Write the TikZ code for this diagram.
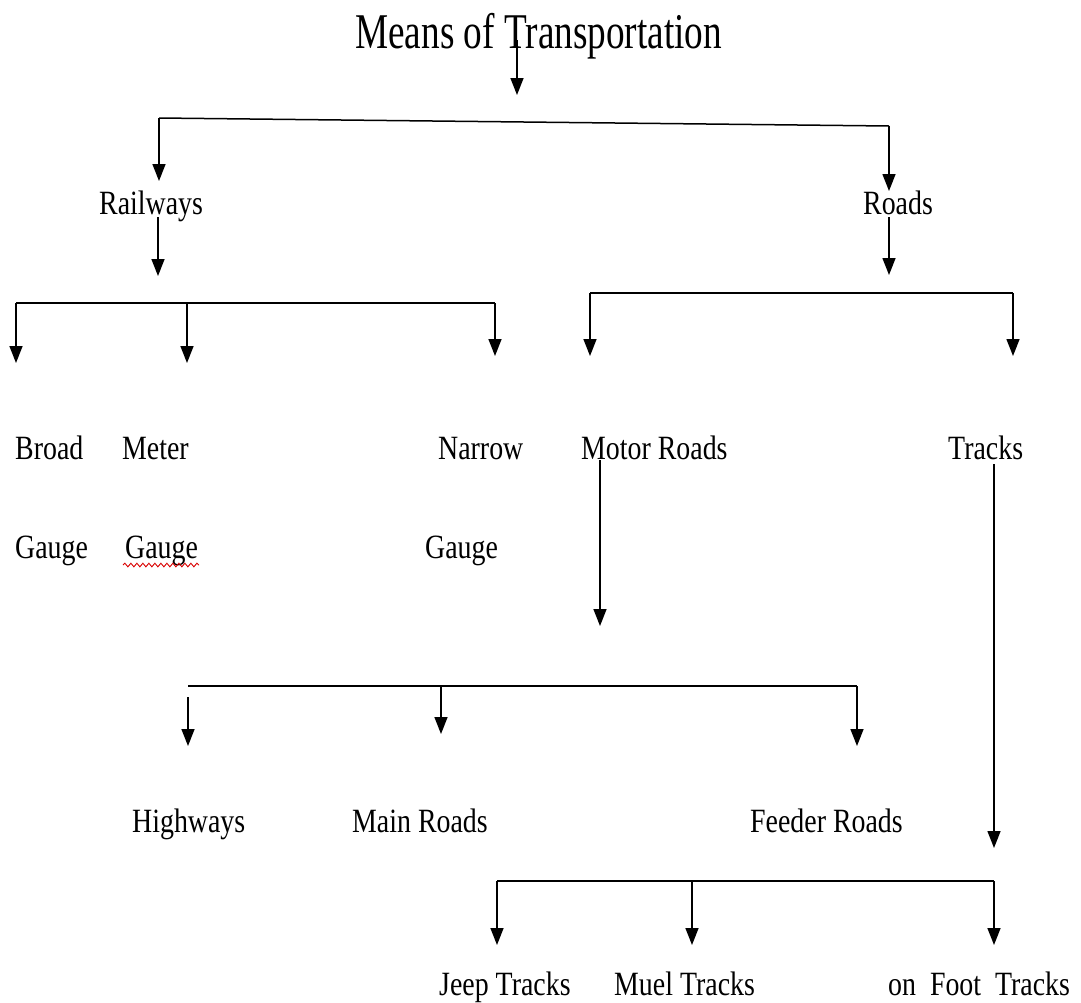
\documentclass[tikz,border=0pt]{standalone}
\usepackage{fontspec}
\setmainfont{Liberation Serif}[FakeStretch=0.82]
\newfontfamily\titlefont{Liberation Serif}[FakeStretch=0.745]
\usetikzlibrary{arrows.meta,decorations.pathmorphing}

\tikzset{
  lbl/.style={anchor=base west, inner sep=0pt, font=\fontsize{34}{40}\selectfont},
  arr/.style={line width=1.5pt, -{Triangle[length=17pt,width=13pt]}},
  ln/.style={line width=1.5pt},
}

\begin{document}
\begin{tikzpicture}[x=1pt,y=-1pt]
  \useasboundingbox (0,0) rectangle (1081,1002);

  %title and first split
  \node[lbl, font=\titlefont\fontsize{50}{56}\selectfont] (title) at (355,48) {Means of Transportation};
  \coordinate (t0) at (517,40);
  \coordinate (t1) at (517,95);
  \draw[arr] (t0) -- (t1);
  \coordinate (sl) at (159,118);
  \coordinate (sr) at (889,126);
  \draw[ln] (sl) -- (sr);

  \node[lbl] (rail) at (99,214) {Railways};
  \node[lbl] (roads) at (863,214) {Roads};
  \draw[arr] (sl) -- (sl |- 0,181);
  \draw[arr] (sr) -- (sr |- 0,191);

  %railways
  \coordinate (r0) at (158,217);
  \draw[arr] (r0) -- (158,276);
  \coordinate (rl) at (16,303);
  \coordinate (rm) at (187,303);
  \coordinate (rr) at (495,303);
  \draw[ln] (rl) -- (rr);
  \draw[arr] (rl) -- ++(0,60);
  \draw[arr] (rm) -- ++(0,60);
  \draw[arr] (rr) -- ++(0,53);

  \node[lbl] (broad) at (15,459) {Broad};
  \node[lbl] (meter) at (122,459) {Meter};
  \node[lbl] (narrow) at (438,459) {Narrow};
  \node[lbl] (gb) at (15,558) {Gauge};
  \node[lbl] (gm) at (125,558) {Gauge};
  \node[lbl] (gn) at (425,558) {Gauge};
  \draw[red!85!black, line width=0.9pt, decorate,
    decoration={snake, amplitude=1.8pt, segment length=6pt}] (gm.base west) ++(-2,7) -- ++(76,0);

  %roads
  \coordinate (d0) at (889,217);
  \draw[arr] (d0) -- (889,275);
  \coordinate (dl) at (590,293);
  \coordinate (dr) at (1013,293);
  \draw[ln] (dl) -- (dr);
  \draw[arr] (dl) -- ++(0,63);
  \draw[arr] (dr) -- ++(0,63);

  \node[lbl] (motor) at (581,459) {Motor Roads};
  \node[lbl] (tracks) at (948,459) {Tracks};

  %motor roads
  \coordinate (m0) at (600,460);
  \draw[arr] (m0) -- (600,626);
  \coordinate (ml) at (188,686);
  \coordinate (mm) at (441,686);
  \coordinate (mr) at (857,686);
  \draw[ln] (ml) -- (mr);
  \draw[arr] (188,697) -- (188,746);
  \draw[arr] (mm) -- ++(0,48);
  \draw[arr] (mr) -- ++(0,60);

  \node[lbl] (high) at (132,832) {Highways};
  \node[lbl] (main) at (352,832) {Main Roads};
  \node[lbl] (feed) at (750,832) {Feeder Roads};

  %tracks
  \coordinate (k0) at (994,464);
  \draw[arr] (k0) -- (994,848);
  \coordinate (kl) at (497,881);
  \coordinate (km) at (692,881);
  \coordinate (kr) at (994,881);
  \draw[ln] (kl) -- (kr);
  \draw[arr] (kl) -- ++(0,64);
  \draw[arr] (km) -- ++(0,64);
  \draw[arr] (kr) -- ++(0,64);

  \node[lbl] (jeep) at (439,995) {Jeep Tracks};
  \node[lbl] (muel) at (614,995) {Muel Tracks};
  \node[lbl] (foot) at (888,995) {on~~Foot~~Tracks};
\end{tikzpicture}
\end{document}
